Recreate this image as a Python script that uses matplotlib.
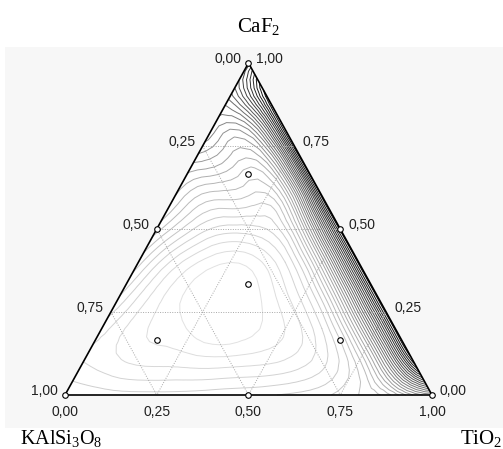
import numpy as np
import matplotlib
matplotlib.use("Agg")
from matplotlib import pyplot as plt
import matplotlib.tri as mtri
from matplotlib.patches import Polygon, Rectangle
from matplotlib.colors import LinearSegmentedColormap

plt.rcParams['font.family'] = 'Liberation Sans'
plt.rcParams['mathtext.fontset'] = 'custom'
plt.rcParams['mathtext.rm'] = 'Liberation Serif'
plt.rcParams['mathtext.it'] = 'Liberation Serif:italic'

# component names (top, bottom-left, bottom-right)
name_top = r"CaF$_\mathrm{2}$"
name_left = r"KAlSi$_\mathrm{3}$O$_\mathrm{8}$"
name_right = r"TiO$_\mathrm{2}$"

# response on a 0.1 grid
# one row per CaF2 level (0.0 .. 1.0), values from TiO2 = 0 up to KAlSi3O8 = 0
grid_step = 0.1
resp_rows = [
    [7.5, 7.0, 6.8, 6.8, 7.0, 7.2, 7.6, 8.2, 9.5, 12.0, 16.0],
    [5.5, 4.6, 4.2, 4.0, 4.0, 4.3, 5.2, 7.6, 14.5, 29.0],
    [6.0, 3.8, 2.9, 1.6, 2.1, 3.5, 6.5, 14.5, 30.0],
    [7.5, 4.0, 2.0, 1.2, 2.9, 6.0, 14.0, 30.0],
    [9.0, 5.0, 2.9, 2.8, 5.5, 13.5, 30.0],
    [11.0, 7.5, 6.0, 6.5, 13.0, 30.0],
    [12.5, 10.0, 9.5, 12.0, 30.0],
    [14.5, 13.0, 13.5, 30.0],
    [17.0, 16.5, 30.5],
    [20.0, 30.0],
    [23.0],
]

# design points (mixture proportions)
design_caf2 = [1, 0, 0, 0.5, 0.5, 0, 1/3, 2/3, 1/6, 1/6]
design_kalsi = [0, 1, 0, 0.5, 0, 0.5, 1/3, 1/6, 2/3, 1/6]
design_tio2 = [0, 0, 1, 0, 0.5, 0.5, 1/3, 1/6, 1/6, 2/3]

tick_values = [0.0, 0.25, 0.5, 0.75, 1.0]
tick_labels = ["0,00", "0,25", "0,50", "0,75", "1,00"]
contour_levels = np.arange(2.5, 31, 1.0)


def to_xy(a, b, c):
    """ ternary (top, left, right) -> cartesian """
    a = np.asarray(a, dtype=float)
    c = np.asarray(c, dtype=float)
    return c + a / 2.0, a


# figure and a full-size axes, triangle placed like in the original
fig = plt.figure(figsize=(5.03, 4.49), dpi=100)
ax = fig.add_axes([0, 0, 1, 1])
ax.set_xlim(-65/367, 438/367)
ax.set_ylim(-54/332, 395/332)
ax.axis("off")

# light grey panel behind the triangle
ax.add_patch(Rectangle((5/503, 21/449), 1 - 5/503, 381/449,
                       transform=fig.transFigure, facecolor="#f7f7f7",
                       edgecolor="none", zorder=0))

# triangle
corner_x, corner_y = to_xy([1, 0, 0], [0, 1, 0], [0, 0, 1])
ax.add_patch(Polygon(np.column_stack([corner_x, corner_y]), closed=True,
                     facecolor="white", edgecolor="none", zorder=1))

# contour lines
pa, pc, pz = [], [], []
for i, row in enumerate(resp_rows):
    for j, v in enumerate(row):
        pa.append(i * grid_step)
        pc.append(j * grid_step)
        pz.append(v)
pa = np.array(pa)
pc = np.array(pc)
gx, gy = to_xy(pa, 1 - pa - pc, pc)
tri = mtri.Triangulation(gx, gy)
refiner = mtri.UniformTriRefiner(tri)
tri_r, z_r = refiner.refine_field(np.array(pz), subdiv=2)
cmap = LinearSegmentedColormap.from_list(
    "greys", ["#e2e2e2", "#b4b4b4", "#5a5a5a", "#000000"])
ax.tricontour(tri_r, z_r, levels=contour_levels, cmap=cmap,
              linewidths=0.7, zorder=2)

# dotted grid lines
for v in [0.25, 0.5, 0.75]:
    for p, q in [((v, 1 - v, 0), (v, 0, 1 - v)),
                 ((1 - v, v, 0), (0, v, 1 - v)),
                 ((1 - v, 0, v), (0, 1 - v, v))]:
        x, y = to_xy([p[0], q[0]], [p[1], q[1]], [p[2], q[2]])
        ax.plot(x, y, color="#a8a8a8", lw=0.7, ls=(0, (1, 1.5)), zorder=3)

# triangle outline
ax.add_patch(Polygon(np.column_stack([corner_x, corner_y]), closed=True,
                     facecolor="none", edgecolor="black", lw=1.2, zorder=4))

# design points
dx, dy = to_xy(design_caf2, design_kalsi, design_tio2)
ax.plot(dx, dy, "o", ms=4, mfc="white", mec="black", mew=0.8,
        zorder=5, clip_on=False)

# tick labels on the three edges
for v, lab in zip(tick_values, tick_labels):
    # KAlSi3O8 along the left edge
    x, y = to_xy(1 - v, v, 0)
    ax.annotate(lab, (x, y), xytext=(-7, 4), textcoords="offset pixels",
                ha="right", va="center", fontsize=10, color="#202020")
    # CaF2 along the right edge
    x, y = to_xy(v, 0, 1 - v)
    ax.annotate(lab, (x, y), xytext=(8, 4), textcoords="offset pixels",
                ha="left", va="center", fontsize=10, color="#202020")
    # TiO2 along the bottom edge
    x, y = to_xy(0, 1 - v, v)
    ax.annotate(lab, (x, y), xytext=(0, -17), textcoords="offset pixels",
                ha="center", va="center", fontsize=10, color="#202020")

# component names
fig.text(259/503, 1 - 32/449, name_top, ha="center", va="baseline",
         fontsize=15, family="Liberation Serif")
fig.text(20/503, 1 - 444/449, name_left, ha="left", va="baseline",
         fontsize=14.5, family="Liberation Serif")
fig.text(460/503, 1 - 444/449, name_right, ha="left", va="baseline",
         fontsize=15, family="Liberation Serif")

fig.savefig("out.png", dpi=100, facecolor="white")
